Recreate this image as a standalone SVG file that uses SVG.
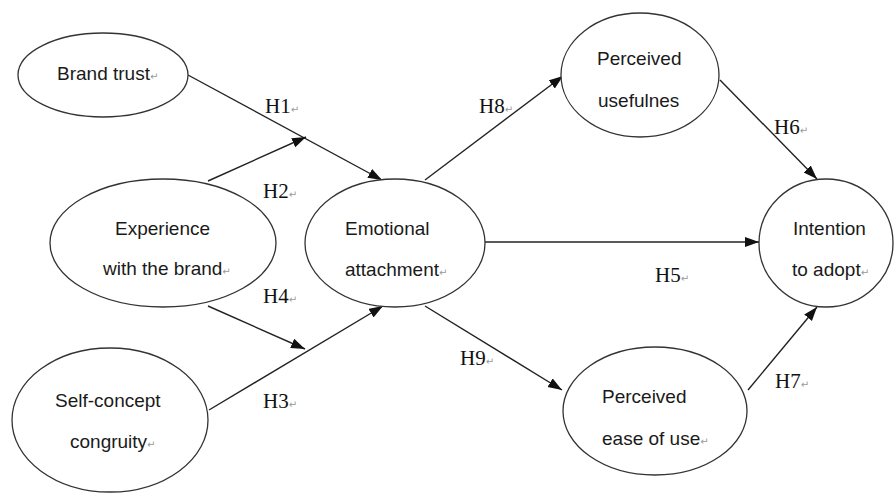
<svg xmlns="http://www.w3.org/2000/svg" width="896" height="495" viewBox="0 0 896 495">
<style>
.n{fill:#fff;stroke:#333;stroke-width:1.3}
.t{font-family:"Liberation Sans",Arial,sans-serif;font-size:19px;fill:#1a1a1a}
.h{font-family:"Liberation Serif","Times New Roman",serif;font-size:21px;fill:#111}
.pm{font-family:"DejaVu Sans",sans-serif;font-size:10px;fill:#999}
.c{stroke:#222;stroke-width:1.4;fill:none;marker-end:url(#ah)}
</style>
<defs>
<marker id="ah" markerUnits="userSpaceOnUse" markerWidth="15" markerHeight="11" refX="14" refY="5" orient="auto">
<path d="M0,0 L14,5 L0,10 z" fill="#111"/>
</marker>
</defs>
<rect width="896" height="495" fill="#fff"/>
<g id="connectors">
<line class="c" x1="188" y1="75" x2="382" y2="180"/>
<line class="c" x1="208" y1="181" x2="306" y2="137"/>
<line class="c" x1="208" y1="306" x2="305" y2="349"/>
<line class="c" x1="209" y1="410" x2="383" y2="306"/>
<line class="c" x1="425" y1="180" x2="563" y2="76"/>
<line class="c" x1="720" y1="80" x2="817" y2="179"/>
<line class="c" x1="485" y1="242" x2="759" y2="242"/>
<line class="c" x1="425" y1="306" x2="562" y2="390"/>
<line class="c" x1="748" y1="390" x2="817" y2="307"/>
</g>
<g id="labels">
<text class="h" x="265" y="113">H1<tspan class="pm">↵</tspan></text>
<text class="h" x="263" y="198">H2<tspan class="pm">↵</tspan></text>
<text class="h" x="263" y="303">H4<tspan class="pm">↵</tspan></text>
<text class="h" x="263" y="408">H3<tspan class="pm">↵</tspan></text>
<text class="h" x="479" y="113">H8<tspan class="pm">↵</tspan></text>
<text class="h" x="774" y="134">H6<tspan class="pm">↵</tspan></text>
<text class="h" x="655" y="282">H5<tspan class="pm">↵</tspan></text>
<text class="h" x="460" y="365">H9<tspan class="pm">↵</tspan></text>
<text class="h" x="775" y="388">H7<tspan class="pm">↵</tspan></text>
</g>
<g id="brand-trust">
<ellipse class="n" cx="103" cy="75" rx="85" ry="42"/>
<text class="t" x="57" y="80">Brand trust<tspan class="pm">↵</tspan></text>
</g>
<g id="experience">
<ellipse class="n" cx="163" cy="243" rx="113" ry="64"/>
<text class="t" x="115" y="235">Experience</text>
<text class="t" x="103" y="275">with the brand<tspan class="pm">↵</tspan></text>
</g>
<g id="self-concept">
<ellipse class="n" cx="110" cy="420" rx="98" ry="72"/>
<text class="t" x="55" y="407">Self-concept</text>
<text class="t" x="70" y="448">congruity<tspan class="pm">↵</tspan></text>
</g>
<g id="emotional">
<ellipse class="n" cx="395" cy="243" rx="90" ry="64"/>
<text class="t" x="345" y="235">Emotional</text>
<text class="t" x="345" y="276">attachment<tspan class="pm">↵</tspan></text>
</g>
<g id="usefulness">
<ellipse class="n" cx="640" cy="75" rx="79" ry="62"/>
<text class="t" x="597" y="65">Perceived</text>
<text class="t" x="598" y="107">usefulnes</text>
</g>
<g id="ease">
<ellipse class="n" cx="655" cy="411" rx="92" ry="64"/>
<text class="t" x="602" y="403">Perceived</text>
<text class="t" x="602" y="445">ease of use<tspan class="pm">↵</tspan></text>
</g>
<g id="intention">
<ellipse class="n" cx="826" cy="243" rx="67" ry="64"/>
<text class="t" x="793" y="235">Intention</text>
<text class="t" x="792" y="276">to adopt<tspan class="pm">↵</tspan></text>
</g>
</svg>
